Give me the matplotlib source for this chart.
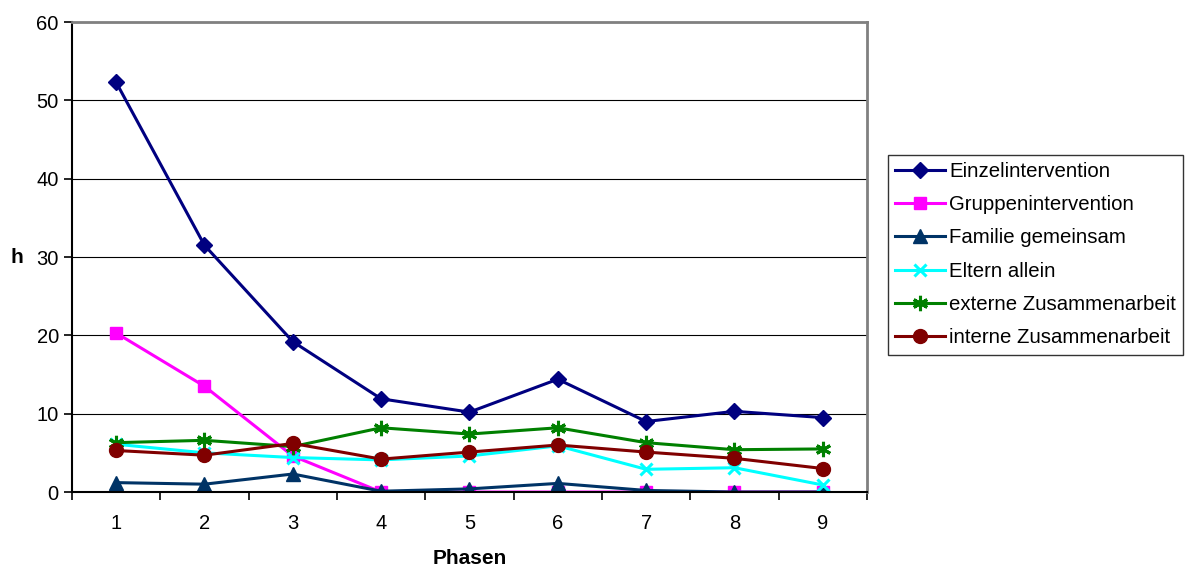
import matplotlib
matplotlib.use("Agg")
from matplotlib import pyplot as plt

plt.rcParams['font.family'] = ['Liberation Sans', 'DejaVu Sans']

phasen = [1, 2, 3, 4, 5, 6, 7, 8, 9]

einzel = [52.3, 31.5, 19.2, 11.9, 10.2, 14.4, 9.0, 10.3, 9.5]
gruppe = [20.3, 13.5, 4.6, 0, 0, 0, 0, 0, 0]
familie = [1.2, 1.0, 2.3, 0.1, 0.4, 1.1, 0.2, 0, 0]
eltern = [6.1, 5.0, 4.4, 4.1, 4.6, 5.9, 2.9, 3.1, 0.9]
extern = [6.3, 6.6, 5.8, 8.2, 7.4, 8.2, 6.3, 5.4, 5.5]
intern = [5.3, 4.7, 6.2, 4.2, 5.1, 6.0, 5.1, 4.3, 3.0]

fig = plt.figure(figsize=(11.9, 5.69), dpi=100)
ax = fig.add_axes([0.0605, 0.1353, 0.668, 0.826])

ax.plot(phasen, einzel, color="#000080", marker="D", markersize=8.5, lw=2.2, label="Einzelintervention")
ax.plot(phasen, gruppe, color="#FF00FF", marker="s", markersize=9, lw=2.2, label="Gruppenintervention")
ax.plot(phasen, familie, color="#003366", marker="^", markersize=10, lw=2.2, label="Familie gemeinsam")
ax.plot(phasen, eltern, color="#00FFFF", marker="x", markersize=9, mew=2.2, lw=2.2, label="Eltern allein")
ax.plot(phasen, extern, color="#008000", marker=(6, 2, 0), markersize=11, mew=2.2, lw=2.2, label="externe Zusammenarbeit")
ax.plot(phasen, intern, color="#800000", marker="o", markersize=10, lw=2.2, label="interne Zusammenarbeit")

ax.set_xlim(0.5, 9.5)
ax.set_ylim(0, 60)
ax.set_yticks(range(0, 61, 10))
ax.set_xticks(phasen)
ax.set_xticks([x + 0.5 for x in range(0, 10)], minor=True)
ax.tick_params(axis='x', which='major', length=0, pad=16, labelsize=14.5)
ax.tick_params(axis='x', which='minor', length=6, width=1.2)
ax.tick_params(axis='y', length=6, width=1.2, labelsize=14.5)
ax.yaxis.grid(True, color="black", lw=0.8)
ax.set_axisbelow(True)

ax.spines['top'].set_color("#808080")
ax.spines['right'].set_color("#808080")
ax.spines['top'].set_linewidth(2)
ax.spines['right'].set_linewidth(2)
ax.spines['left'].set_linewidth(1.5)
ax.spines['bottom'].set_linewidth(1.5)

ax.set_xlabel("Phasen", fontsize=15, fontweight="bold", labelpad=11)
ax.set_ylabel("h", fontsize=15, fontweight="bold", rotation=0, labelpad=14, va="center")

leg = fig.legend(loc="upper left", bbox_to_anchor=(0.746, 0.728), fontsize=14.7, frameon=True,
                 fancybox=False, edgecolor="black", handlelength=2.45, labelspacing=0.7,
                 borderpad=0.35, handletextpad=0.2, borderaxespad=0)
leg.get_frame().set_linewidth(1)

fig.savefig("out.png", dpi=100)
